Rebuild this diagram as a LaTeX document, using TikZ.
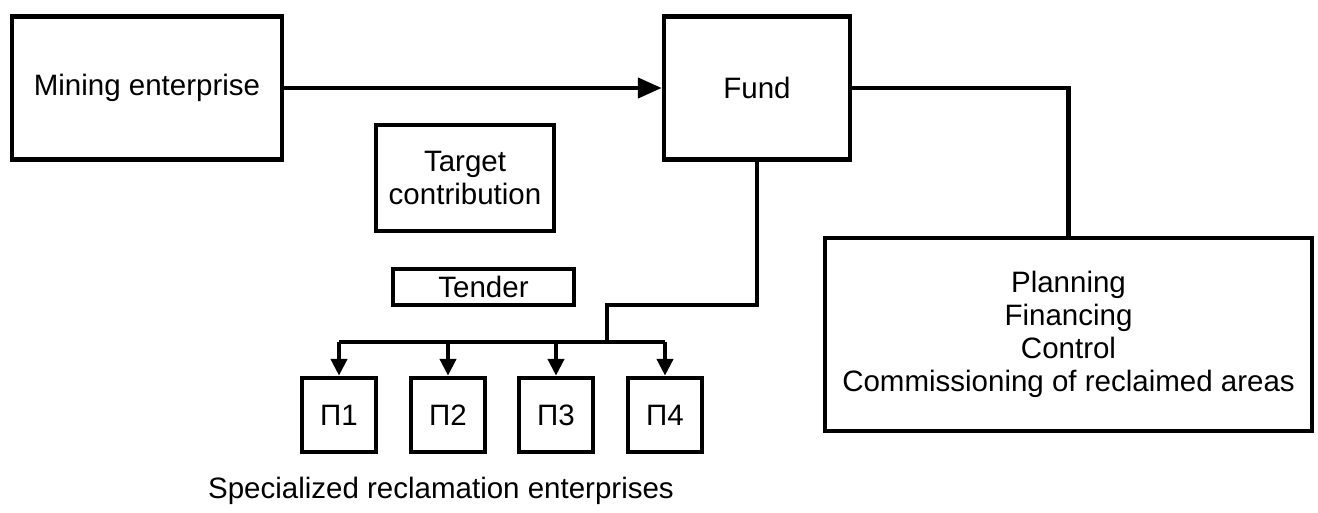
\documentclass[tikz,border=0pt]{standalone}
\usepackage{fontspec}
\setmainfont{Liberation Sans}
\usetikzlibrary{arrows.meta}
\begin{document}
\begin{tikzpicture}[x=1pt,y=-1pt,
  label font/.style={font=\fontsize{29.5}{33}\selectfont},
  box/.style={draw=black,line width=4.5pt,rectangle,inner sep=0pt,align=center,label font},
  link/.style={line width=4.5pt,line join=miter,draw=black},
  bigtip/.style={-{Triangle[length=24pt,width=20pt]}},
  smalltip/.style={-{Triangle[length=17pt,width=16pt]}}]
\useasboundingbox (0,0) rectangle (1318,513);

% upper row
\node[box,minimum width=270pt,minimum height=143pt] (mining) at (147,88) {Mining enterprise};
\node[box,minimum width=186pt,minimum height=143pt] (fund) at (757,88) {Fund};
\node[box,minimum width=178pt,minimum height=106pt] (target) at (465,178) {Target\\contribution};
\node[box,minimum width=181pt,minimum height=36pt] (tender) at (483.5,287) {Tender};

% administration box
\node[box,minimum width=487pt,minimum height=193pt] (admin) at (1068.5,334.5)
  {Planning\\Financing\\Control\\Commissioning of reclaimed areas};

% contractors
\foreach \i/\x in {1/339,2/448,3/556,4/665}{
  \node[box,minimum width=74pt,minimum height=74pt] (p\i) at (\x,415) {П\i};
}
\node[label font] (caption) at (441,491) {Specialized reclamation enterprises};

% connectors
\draw[link,bigtip] (mining.east) -- (fund.west);
\draw[link] (fund.east) -| (admin.north);
\coordinate (drop) at (757,305);
\coordinate (bus) at (607,342);
\draw[link] (fund.south) -- (drop) -| (bus);
\draw[link,line cap=butt] (p1.north |- bus) -- (p4.north |- bus);
\foreach \i in {1,...,4}{
  \draw[link,smalltip] (p\i.north |- bus) -- (p\i.north);
}
\end{tikzpicture}
\end{document}
